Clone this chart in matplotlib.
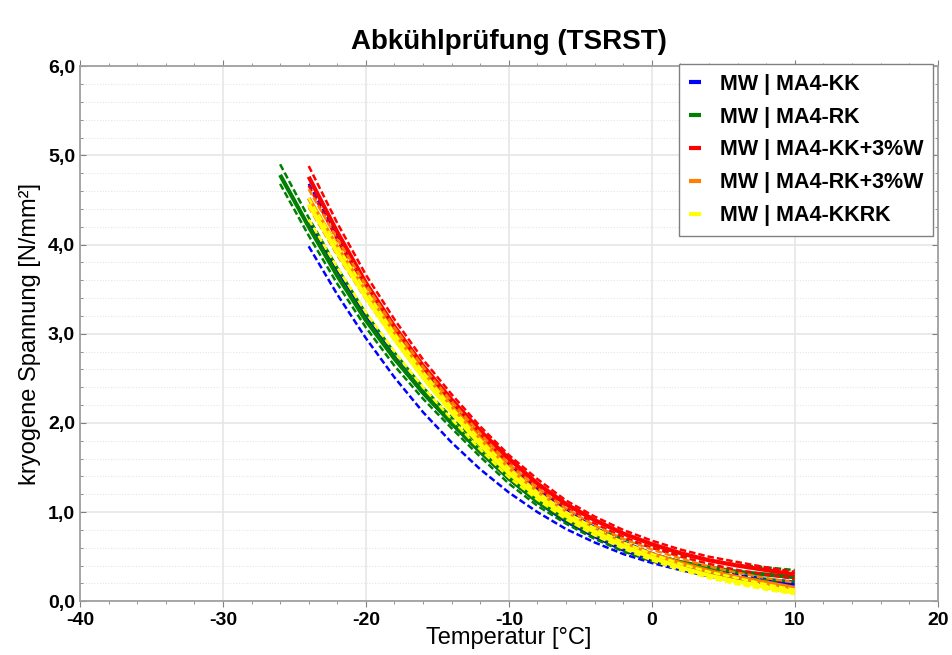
import matplotlib
matplotlib.use("Agg")
import matplotlib.pyplot as plt
from matplotlib.ticker import MultipleLocator, FuncFormatter
import numpy as np

plt.rcParams['font.family'] = ['Liberation Sans', 'DejaVu Sans']
plt.rcParams['axes.unicode_minus'] = False

# Temperatur-Stuetzstellen [°C]
temp = [-26, -24, -22, -20, -18, -16, -14, -12, -10, -8, -6, -4, -2, 0, 2, 4, 6, 8, 10]
N = np.nan

# kryogene Spannung [N/mm²]: Mittelwert, untere und obere Grenze je Variante
kk_mid = [N, 4.25, 3.68, 3.17, 2.73, 2.34, 2.00, 1.68, 1.38, 1.12, 0.90, 0.73, 0.58, 0.46, 0.38, 0.31, 0.26, 0.22, 0.19]
kk_low = [N, 3.98, 3.44, 2.95, 2.51, 2.12, 1.78, 1.48, 1.22, 1.00, 0.81, 0.66, 0.53, 0.43, 0.35, 0.28, 0.22, 0.18, 0.15]
kk_up = [N, 4.68, 4.10, 3.55, 3.06, 2.62, 2.22, 1.86, 1.54, 1.26, 1.02, 0.83, 0.67, 0.54, 0.44, 0.36, 0.30, 0.25, 0.22]

rk_mid = [4.78, 4.20, 3.65, 3.15, 2.72, 2.34, 2.00, 1.68, 1.38, 1.12, 0.92, 0.75, 0.62, 0.52, 0.44, 0.38, 0.33, 0.30, 0.27]
rk_low = [4.68, 4.10, 3.56, 3.07, 2.64, 2.27, 1.94, 1.62, 1.32, 1.07, 0.87, 0.70, 0.56, 0.45, 0.37, 0.31, 0.27, 0.24, 0.22]
rk_up = [4.90, 4.30, 3.74, 3.23, 2.79, 2.40, 2.06, 1.74, 1.44, 1.18, 0.98, 0.82, 0.70, 0.60, 0.52, 0.46, 0.41, 0.38, 0.35]

kkw_mid = [N, 4.76, 4.14, 3.57, 3.08, 2.64, 2.26, 1.91, 1.60, 1.32, 1.09, 0.91, 0.76, 0.64, 0.54, 0.46, 0.40, 0.35, 0.30]
kkw_low = [N, 4.66, 4.05, 3.49, 3.01, 2.58, 2.20, 1.86, 1.55, 1.28, 1.05, 0.87, 0.72, 0.60, 0.50, 0.42, 0.35, 0.30, 0.25]
kkw_up = [N, 4.88, 4.24, 3.66, 3.16, 2.71, 2.32, 1.96, 1.64, 1.37, 1.13, 0.95, 0.80, 0.68, 0.58, 0.50, 0.44, 0.38, 0.33]

rkw_mid = [N, 4.52, 3.97, 3.47, 3.00, 2.56, 2.18, 1.82, 1.49, 1.22, 0.99, 0.80, 0.65, 0.53, 0.43, 0.34, 0.27, 0.21, 0.15]
rkw_low = [N, 4.42, 3.88, 3.39, 2.93, 2.50, 2.12, 1.76, 1.44, 1.17, 0.94, 0.75, 0.60, 0.48, 0.38, 0.29, 0.22, 0.15, 0.09]
rkw_up = [N, 4.62, 4.06, 3.55, 3.07, 2.63, 2.24, 1.88, 1.54, 1.27, 1.04, 0.85, 0.70, 0.58, 0.48, 0.39, 0.32, 0.26, 0.21]

kkrk_mid = [N, 4.45, 3.91, 3.41, 2.94, 2.51, 2.12, 1.76, 1.44, 1.18, 0.96, 0.78, 0.62, 0.49, 0.38, 0.29, 0.22, 0.16, 0.10]
kkrk_low = [N, 4.28, 3.74, 3.24, 2.80, 2.40, 2.04, 1.70, 1.39, 1.14, 0.92, 0.74, 0.59, 0.46, 0.35, 0.26, 0.19, 0.13, 0.08]
kkrk_up = [N, 4.52, 3.98, 3.48, 3.00, 2.57, 2.17, 1.81, 1.49, 1.22, 1.00, 0.82, 0.66, 0.53, 0.42, 0.33, 0.26, 0.19, 0.13]

labels = ['MW | MA4-KK', 'MW | MA4-RK', 'MW | MA4-KK+3%W', 'MW | MA4-RK+3%W', 'MW | MA4-KKRK']
colors = ['#0000ff', '#008000', '#ff0000', '#ff8000', '#ffff00']
series = [(kk_mid, kk_low, kk_up), (rk_mid, rk_low, rk_up), (kkw_mid, kkw_low, kkw_up),
          (rkw_mid, rkw_low, rkw_up), (kkrk_mid, kkrk_low, kkrk_up)]

fig = plt.figure(figsize=(9.52, 6.55), dpi=100)
ax = fig.add_axes([0.084, 0.082, 0.901, 0.817])

for (mid, low, up), c, lab in zip(series, colors, labels):
    ax.plot(temp, low, color=c, lw=1.8, dashes=(2.6, 1.2))
    ax.plot(temp, up, color=c, lw=1.8, dashes=(2.6, 1.2))
    ax.plot(temp, mid, color=c, lw=3.0, label=lab, solid_capstyle='butt')

ax.set_xlim(-40, 20)
ax.set_ylim(0, 6)
ax.xaxis.set_major_locator(MultipleLocator(10))
ax.xaxis.set_minor_locator(MultipleLocator(2))
ax.yaxis.set_major_locator(MultipleLocator(1))
ax.yaxis.set_minor_locator(MultipleLocator(0.2))
ax.yaxis.set_major_formatter(FuncFormatter(lambda v, p: f'{v:.1f}'.replace('.', ',')))

ax.grid(which='major', color='#e6e6e6', lw=1.2)
ax.grid(which='minor', axis='y', color='#e6e6e6', lw=0.8, ls=(0, (1, 1.5)))
ax.set_axisbelow(True)

for s in ax.spines.values():
    s.set_color('#a0a0a0')
    s.set_linewidth(1.3)

ax.tick_params(which='both', top=True, right=True, color='#808080')
ax.tick_params(axis='y', which='both', direction='in')
ax.tick_params(axis='x', which='both', direction='out')
ax.tick_params(which='major', length=4, labelsize=14)
ax.tick_params(which='minor', length=2)
for t in ax.get_xticklabels() + ax.get_yticklabels():
    t.set_fontweight('bold')

ax.set_xlabel('Temperatur [°C]', fontsize=17, labelpad=-1)
ax.set_ylabel('kryogene Spannung [N/mm²]', fontsize=17, labelpad=5)
ax.set_title('Abkühlprüfung (TSRST)', fontsize=20, fontweight='bold', pad=12)

leg = ax.legend(loc='upper right', prop={'weight': 'bold', 'size': 15.5},
                handlelength=0.55, handletextpad=0.9, labelspacing=0.55,
                fancybox=False, framealpha=1, edgecolor='#808080',
                borderpad=0.45, borderaxespad=0.2, bbox_to_anchor=(1.0, 1.012))
for h in leg.get_lines():
    h.set_linewidth(3)

fig.savefig('out.png', dpi=100)
